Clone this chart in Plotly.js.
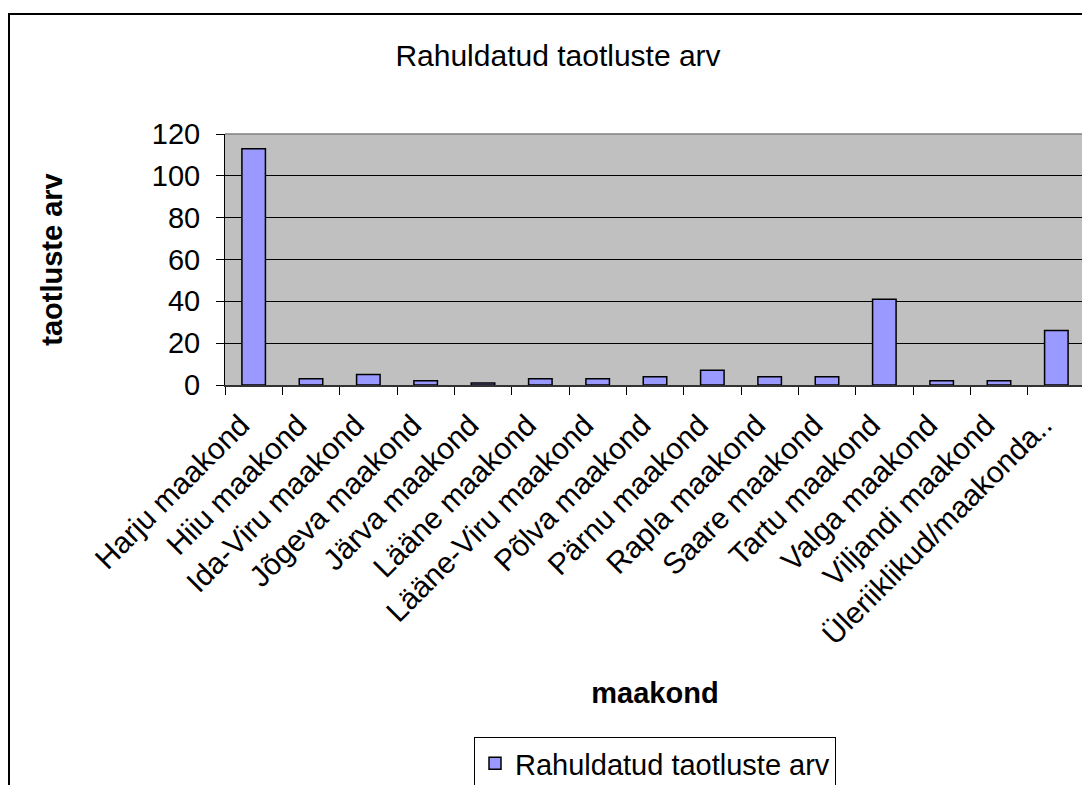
<!DOCTYPE html>
<html>
<head>
<meta charset="utf-8">
<script src="https://cdn.plot.ly/plotly-3.0.1.min.js"></script>
<style>
html,body{margin:0;padding:0;overflow:hidden;background:#fff;width:1082px;height:785px;}
#frame{position:absolute;left:8px;top:13px;width:1100px;height:800px;border-left:2px solid #000;border-top:2px solid #000;pointer-events:none;z-index:5;}
#chart{position:absolute;left:0;top:0;}
</style>
</head>
<body>
<div id="chart"></div>
<div id="frame"></div>
<script>
const categories = ["Harju maakond","Hiiu maakond","Ida-Viru maakond","Jõgeva maakond","Järva maakond","Lääne maakond","Lääne-Viru maakond","Põlva maakond","Pärnu maakond","Rapla maakond","Saare maakond","Tartu maakond","Valga maakond","Viljandi maakond","Üleriiklikud/maakonda.."];
const values = [113, 3, 5, 2, 1, 3, 3, 4, 7, 4, 4, 41, 2, 2, 26];
const seriesName = "Rahuldatud taotluste arv";
const yTicks = [0, 20, 40, 60, 80, 100, 120];

const FONT = "Liberation Sans, Arial, sans-serif";

const trace = {
  type: "bar",
  x: categories,
  y: values,
  name: seriesName,
  marker: {color: "#9999FF", line: {color: "#000000", width: 1.5}},
  showlegend: true
};

const layout = {
  width: 1095,
  height: 785,
  margin: {l: 225, r: 10, t: 134, b: 400, autoexpand: false},
  paper_bgcolor: "#ffffff",
  plot_bgcolor: "#C0C0C0",
  font: {family: FONT, size: 29, color: "#000"},
  bargap: 0.59,
  title: {text: "Rahuldatud taotluste arv", font: {family: FONT, size: 30, color: "#000"}, x: 558/1095, xref: "container", xanchor: "center", y: 1 - 55/785, yanchor: "middle"},
  xaxis: {
    type: "category",
    tickangle: -45,
    tickson: "boundaries",
    ticks: "outside",
    ticklen: 8,
    tickcolor: "#000",
    tickwidth: 1,
    showline: true,
    linecolor: "#333",
    linewidth: 1.5,
    showgrid: false,
    automargin: false,
    ticklabelstandoff: 9,
    ticklabelshift: -13,
    tickfont: {family: FONT, size: 30, color: "#000"},
    title: {text: "maakond", font: {family: FONT, size: 29, color: "#000", weight: "bold"}, standoff: 33}
  },
  yaxis: {
    range: [0, 120],
    tickvals: yTicks,
    ticktext: yTicks.map(String),
    ticks: "outside",
    ticklen: 8,
    tickcolor: "#000",
    showline: true,
    linecolor: "#000",
    linewidth: 1,
    showgrid: true,
    gridcolor: "#000",
    gridwidth: 1,
    zeroline: false,
    automargin: false,
    ticklabelstandoff: 10,
    tickfont: {family: FONT, size: 29, color: "#000"},
    title: {text: "taotluste arv", font: {family: FONT, size: 29, color: "#000", weight: "bold"}, standoff: 80}
  },
  shapes: [
    {type: "line", xref: "paper", yref: "paper", x0: 0, x1: 1, y0: 1, y1: 1, line: {color: "#808080", width: 1.5}},
    {type: "line", xref: "paper", yref: "paper", x0: 1, x1: 1, y0: 0, y1: 1, line: {color: "#808080", width: 1.5}}
  ],
  legend: {
    x: 0.5, xanchor: "center", xref: "paper",
    y: 1 - 737/785, yanchor: "top", yref: "container",
    bgcolor: "#ffffff",
    bordercolor: "#000",
    borderwidth: 1,
    font: {family: FONT, size: 29, color: "#000"},
    itemwidth: 30
  }
};

Plotly.newPlot("chart", [trace], layout, {displayModeBar: false, staticPlot: true});
</script>
</body>
</html>
